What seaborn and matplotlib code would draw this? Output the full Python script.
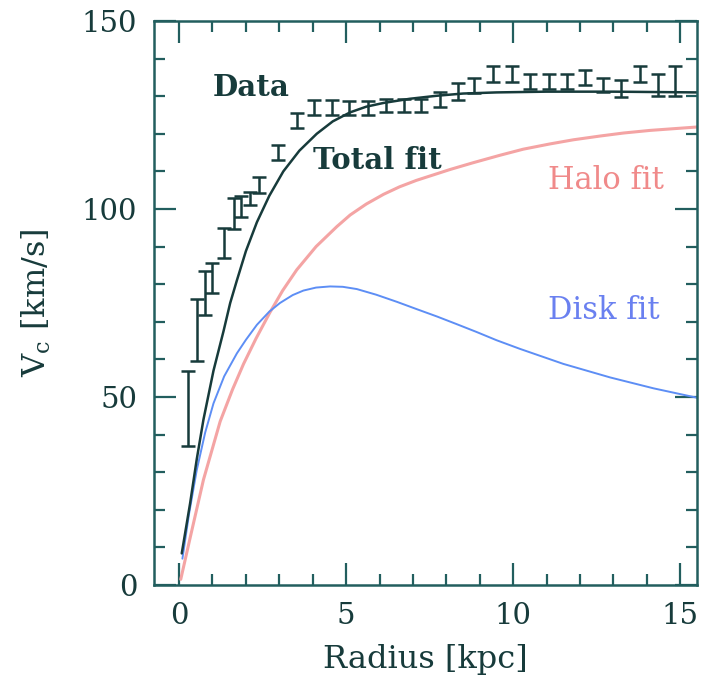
import matplotlib
matplotlib.use("Agg")
import matplotlib.pyplot as plt
from matplotlib.ticker import MultipleLocator
import seaborn as sns

# observed rotation curve (kpc, km/s)
radius = [0.28, 0.53, 0.78, 0.98, 1.33, 1.63, 1.86, 2.13, 2.40, 2.97, 3.52,
          4.05, 4.57, 5.10, 5.65, 6.20, 6.72, 7.25, 7.80, 8.36, 8.83, 9.40,
          9.95, 10.50, 11.06, 11.60, 12.14, 12.68, 13.22, 13.78, 14.33, 14.85]
v_obs = [47.0, 67.8, 77.6, 81.6, 90.9, 98.7, 100.6, 102.8, 106.3, 115.0, 123.5,
         127.0, 127.0, 126.8, 126.8, 127.5, 127.5, 127.5, 129.2, 131.2, 132.8, 135.9,
         135.9, 134.0, 133.8, 134.0, 135.0, 133.0, 132.1, 135.8, 133.0, 134.0]
v_err = [10.0, 8.2, 5.9, 4.0, 4.0, 4.1, 2.8, 1.8, 2.1, 2.0, 2.0,
         2.0, 2.0, 1.8, 1.8, 1.8, 1.8, 1.8, 2.0, 2.2, 2.0, 2.0,
         2.0, 2.0, 2.0, 2.0, 2.0, 1.8, 2.2, 2.1, 3.0, 4.0]

# fitted components
r_total = [0.08, 0.33, 0.53, 0.73, 1.03, 1.33, 1.53, 1.73, 2.00, 2.33, 2.70, 3.12,
           3.60, 4.12, 4.60, 5.12, 5.60, 6.12, 6.90, 7.70, 8.50, 9.50, 11.0, 13.0, 15.5]
v_total = [8.4, 21.7, 33.5, 44.0, 57.0, 67.5, 75.0, 81.0, 88.8, 96.5, 103.5, 110.0,
           115.5, 120.0, 123.3, 125.7, 127.2, 128.2, 129.3, 130.1, 130.7, 131.0, 131.2, 131.2, 131.0]

r_halo = [0.05, 0.33, 0.73, 1.23, 1.60, 1.93, 2.30, 2.72, 3.10, 3.52, 4.10, 4.72,
          5.12, 5.60, 6.12, 6.60, 7.10, 8.11, 8.80, 9.61, 10.3, 11.1, 11.8, 12.6,
          13.3, 14.1, 15.5]
v_halo = [1.5, 12.5, 28.0, 43.5, 52.0, 58.8, 65.5, 72.5, 78.3, 83.8, 90.0, 95.3,
          98.4, 101.3, 103.9, 105.9, 107.6, 110.5, 112.3, 114.3, 115.9, 117.3, 118.4, 119.4,
          120.2, 120.9, 121.8]

r_disk = [0.10, 0.30, 0.53, 0.78, 1.03, 1.35, 1.73, 2.00, 2.33, 2.70, 3.02, 3.40,
          3.72, 4.10, 4.52, 4.90, 5.32, 5.90, 6.52, 7.10, 7.72, 8.30, 8.90, 9.50,
          10.2, 11.5, 12.9, 14.2, 15.5]
v_disk = [7.0, 19.0, 30.6, 40.5, 48.3, 55.5, 61.6, 65.2, 69.2, 72.7, 75.0, 77.1,
          78.3, 79.1, 79.4, 79.3, 78.7, 77.2, 75.3, 73.4, 71.4, 69.4, 67.3, 65.1,
          62.8, 58.8, 55.2, 52.3, 49.8]

ink = "#173b3b"
frame = "#225e5e"
halo_col = "#f4a4a4"
disk_col = "#5d8ef5"

sns.set_theme(style="ticks")
plt.rcParams["font.family"] = ["DejaVu Serif"]
plt.rcParams["mathtext.fontset"] = "dejavuserif"

fig = plt.figure(figsize=(7.01, 6.83), dpi=100)
ax = fig.add_axes([0.2197, 0.1435, 0.7746, 0.8258])

sns.lineplot(x=r_halo, y=v_halo, ax=ax, color=halo_col, lw=2.2, errorbar=None)
sns.lineplot(x=r_disk, y=v_disk, ax=ax, color=disk_col, lw=1.4, errorbar=None)
sns.lineplot(x=r_total, y=v_total, ax=ax, color=ink, lw=1.8, errorbar=None)
ax.errorbar(radius, v_obs, yerr=v_err, fmt="none", ecolor=ink,
            elinewidth=1.8, capsize=5, capthick=1.8)

ax.text(1.02, 132.3, "Data", color=ink, fontsize=21, fontweight="bold", va="center")
ax.text(4.01, 112.8, "Total fit", color=ink, fontsize=21, fontweight="bold", va="center")
ax.text(11.05, 107.7, "Halo fit", color="#f08a8a", fontsize=22, va="center")
ax.text(11.05, 73.0, "Disk fit", color="#6a80f0", fontsize=22, va="center")

ax.set_xlim(-0.75, 15.5)
ax.set_ylim(0, 150)
ax.xaxis.set_major_locator(MultipleLocator(5))
ax.xaxis.set_minor_locator(MultipleLocator(1))
ax.yaxis.set_major_locator(MultipleLocator(50))
ax.yaxis.set_minor_locator(MultipleLocator(10))
ax.tick_params(which="both", direction="in", top=True, right=True,
               color=frame, width=1.6, labelsize=21, labelcolor=ink, pad=12)
ax.tick_params(which="major", length=16)
ax.tick_params(which="minor", length=8)
for side in ax.spines.values():
    side.set_color(frame)
    side.set_linewidth(1.8)

ax.set_xlabel("Radius [kpc]", fontsize=23, color=ink)
ax.set_ylabel(r"V$_\mathrm{c}$ [km/s]", fontsize=23, color=ink)
ax.xaxis.set_label_coords(0.5, -0.104)
ax.yaxis.set_label_coords(-0.186, 0.5)

fig.savefig("out.png", dpi=100)
